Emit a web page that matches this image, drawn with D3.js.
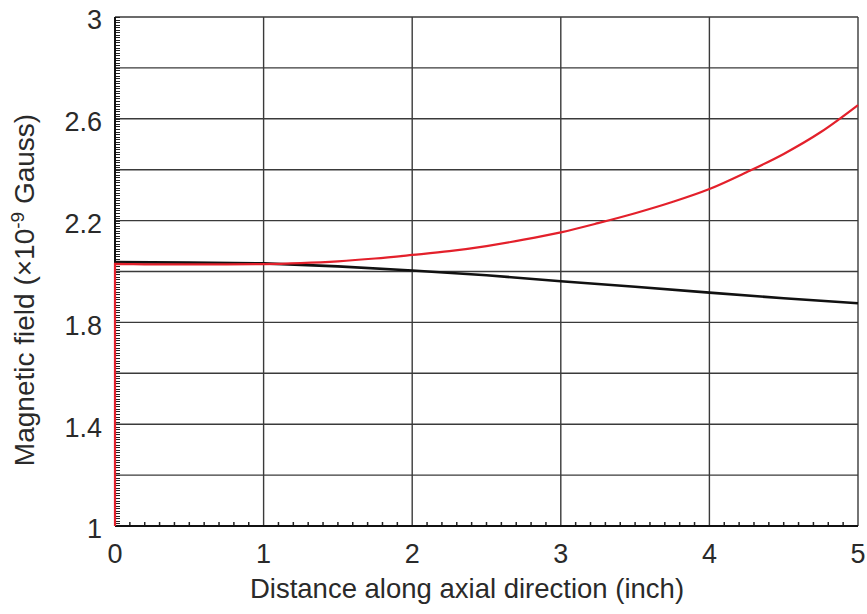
<!DOCTYPE html>
<html>
<head>
<meta charset="utf-8">
<script src="https://cdn.jsdelivr.net/npm/d3@7"></script>
<style>
  html, body { margin: 0; padding: 0; background: #fff; }
  svg { display: block; }
  text { font-family: "Liberation Sans", Arial, sans-serif; fill: #2a2a2a; }
</style>
</head>
<body>
<svg id="chart" width="867" height="614"></svg>
<script>
// Field along the axis (x in inches, field in 1e-9 Gauss)
const redX   = [0, 0, 0.25, 0.5, 0.75, 1, 1.25, 1.5, 1.75, 2, 2.25, 2.5, 2.75, 3, 3.25, 3.5, 3.75, 4, 4.25, 4.5, 4.75, 5];
const redY   = [1, 2.03, 2.028, 2.028, 2.028, 2.029, 2.033, 2.04, 2.051, 2.065, 2.08, 2.1, 2.125, 2.154, 2.19, 2.229, 2.273, 2.324, 2.39, 2.462, 2.548, 2.654];
const blackX = [0, 0.5, 1, 1.5, 2, 2.5, 3, 3.5, 4, 4.5, 5];
const blackY = [2.037, 2.035, 2.032, 2.02, 2.004, 1.985, 1.962, 1.94, 1.917, 1.895, 1.875];

const xTicks = [0, 1, 2, 3, 4, 5];
const yTicks = [1, 1.4, 1.8, 2.2, 2.6, 3];
const yGrid  = [1.2, 1.4, 1.6, 1.8, 2.0, 2.2, 2.4, 2.6, 2.8, 3.0];

const xTitle = "Distance along axial direction (inch)";

const svg = d3.select("#chart");
const L = 115, R = 858, T = 17, B = 526;

const x = d3.scaleLinear().domain([0, 5]).range([L, R]);
const y = d3.scaleLinear().domain([1, 3]).range([B, T]);

// grid
const grid = svg.append("g").attr("stroke", "#3a3a3a").attr("stroke-width", 1.4);
grid.selectAll("line.v").data(xTicks.slice(1)).join("line")
  .attr("x1", d => x(d)).attr("x2", d => x(d)).attr("y1", T).attr("y2", B);
grid.selectAll("line.h").data(yGrid).join("line")
  .attr("y1", d => y(d)).attr("y2", d => y(d)).attr("x1", L).attr("x2", R);

// minor ticks
const yMinor = d3.range(1, 3.0001, 0.01);
svg.append("g").attr("stroke", "#222").attr("stroke-width", 1)
  .selectAll("line").data(yMinor).join("line")
  .attr("x1", L).attr("x2", L + 5)
  .attr("y1", d => Math.round(y(d)) + 0.5).attr("y2", d => Math.round(y(d)) + 0.5);
const xMinor = d3.range(0.1, 5, 0.1).filter(d => Math.abs(d - Math.round(d)) > 0.01);
svg.append("g").attr("stroke", "#222").attr("stroke-width", 1.5)
  .selectAll("line").data(xMinor).join("line")
  .attr("x1", d => x(d)).attr("x2", d => x(d))
  .attr("y1", B).attr("y2", B - 4);

// main axes
svg.append("line").attr("x1", L).attr("x2", L).attr("y1", T).attr("y2", B)
  .attr("stroke", "#111").attr("stroke-width", 2);
svg.append("line").attr("x1", L).attr("x2", R).attr("y1", B).attr("y2", B)
  .attr("stroke", "#111").attr("stroke-width", 2);

// curves
const line = d3.line().x(d => x(d[0])).y(d => y(d[1]));
svg.append("path").datum(blackX.map((v, i) => [v, blackY[i]]))
  .attr("d", line).attr("fill", "none").attr("stroke", "#111").attr("stroke-width", 2.6);
svg.append("path").datum(redX.map((v, i) => [v, redY[i]]))
  .attr("d", line.curve(d3.curveMonotoneX)).attr("fill", "none")
  .attr("stroke", "#e3202b").attr("stroke-width", 2.2);

// tick labels
svg.append("g").selectAll("text").data(yTicks).join("text")
  .attr("x", L - 13).attr("y", d => y(d) + 3).attr("dy", "0.35em")
  .attr("text-anchor", "end").attr("font-size", 27)
  .text(d => d3.format("")(d));
svg.append("g").selectAll("text").data(xTicks).join("text")
  .attr("x", d => x(d)).attr("y", B + 37)
  .attr("text-anchor", "middle").attr("font-size", 27)
  .text(d => d);

// axis titles
svg.append("text").attr("x", 467).attr("y", 598).attr("text-anchor", "middle")
  .attr("font-size", 27.5).text(xTitle);

const yt = svg.append("text").attr("transform", "translate(34,290) rotate(-90)")
  .attr("text-anchor", "middle").attr("font-size", 28);
yt.append("tspan").text("Magnetic field (\u00d710");
yt.append("tspan").attr("dy", -10).attr("font-size", 19).text("-9");
yt.append("tspan").attr("dy", 10).text(" Gauss)");
</script>
</body>
</html>
